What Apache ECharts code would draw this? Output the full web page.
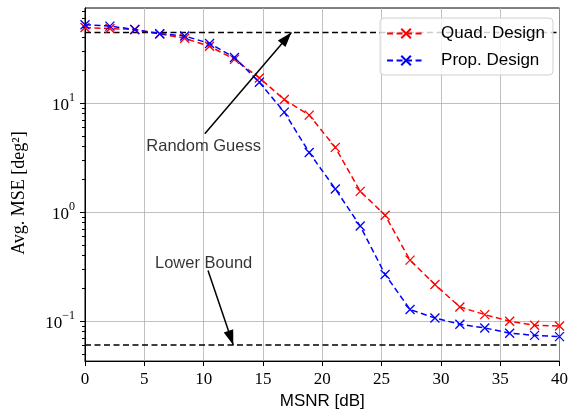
<!DOCTYPE html>
<html>
<head>
<meta charset="utf-8">
<script src="https://cdn.jsdelivr.net/npm/echarts@6/dist/echarts.min.js"></script>
<style>
html, body { margin: 0; padding: 0; background: #fff; }
#chart { width: 571px; height: 415px; }
</style>
</head>
<body>
<div id="chart"></div>
<script>
// MSNR grid (20 points, 0..40 dB)
var msnr = [0, 2.1, 4.2, 6.3, 8.4, 10.5, 12.6, 14.7, 16.8, 18.9, 21.1, 23.2, 25.3, 27.4, 29.5, 31.6, 33.7, 35.8, 37.9, 40]
var quadMse = [49, 48, 47, 42.8, 39, 33, 25, 16.9, 10.7, 7.7, 3.9, 1.54, 0.93, 0.36, 0.215, 0.134, 0.114, 0.099, 0.091, 0.0895]
var propMse = [52, 50.5, 47, 43, 41, 35, 26, 15.4, 8.2, 3.5, 1.62, 0.74, 0.266, 0.127, 0.106, 0.093, 0.086, 0.077, 0.0735, 0.0716]
var randomGuess = 44.2
var lowerBound = 0.06
var yMajor = [0.1, 1, 10]
var yMinor = [0.05, 0.06, 0.07, 0.08, 0.09, 0.2, 0.3, 0.4, 0.5, 0.6, 0.7, 0.8, 0.9,
  2, 3, 4, 5, 6, 7, 8, 9, 20, 30, 40, 50, 60, 70]
// annotations: text position, [arrow tail, arrow head]
var guessText = [10, 3.98]
var guessArrow = [[10.1, 5.2], [17.4, randomGuess]]
var boundText = [10, 0.337]
var boundArrow = [[10.37, 0.29], [12.5, lowerBound]]

var crossPath = 'path://M0,0L10,10M10,0L0,10'
var serif = 'Liberation Serif'
var sans = 'Liberation Sans'

function sup(v) {
  var e = Math.round(Math.log10(v))
  return '{b|10}{s|' + (e < 0 ? '\u2212' + (-e) : e) + '}'
}

var chart = echarts.init(document.getElementById('chart'))
chart.setOption({
  animation: false,
  grid: { left: 85, right: 9, top: 8, bottom: 50, show: true, borderColor: '#000', borderWidth: 1 },
  legend: {
    data: ['Quad. Design', 'Prop. Design'],
    orient: 'vertical',
    right: 18,
    top: 18,
    padding: [7, 8, 6, 6],
    itemGap: 10,
    itemWidth: 38,
    itemHeight: 12,
    backgroundColor: 'rgba(255,255,255,0.8)',
    borderColor: '#d0d0d0',
    borderWidth: 1,
    borderRadius: 4,
    textStyle: { fontFamily: sans, fontSize: 17, color: '#000', padding: [0, 0, 0, 11] }
  },
  xAxis: {
    type: 'value',
    min: 0,
    max: 40,
    interval: 5,
    name: 'MSNR [dB]',
    nameLocation: 'middle',
    nameGap: 31,
    nameTextStyle: { fontFamily: sans, fontSize: 17, color: '#000' },
    axisLine: { lineStyle: { color: '#000' } },
    axisTick: { length: 5, lineStyle: { color: '#000' } },
    axisLabel: { margin: 10, fontFamily: serif, fontSize: 17, color: '#000' },
    splitLine: { lineStyle: { color: '#b0b0b0', width: 0.8 } }
  },
  yAxis: {
    type: 'log',
    logBase: 10,
    min: 0.0427,
    max: 74,
    name: 'Avg. MSE [deg\u00b2]',
    nameLocation: 'middle',
    nameGap: 57,
    nameTextStyle: { fontFamily: serif, fontSize: 18, color: '#000', padding: [0, 17, 0, 0] },
    axisLine: { show: true, lineStyle: { color: '#000' } },
    axisTick: { length: 5, customValues: yMajor, lineStyle: { color: '#000' } },
    axisLabel: {
      margin: 10,
      customValues: yMajor,
      formatter: sup,
      rich: {
        b: { fontFamily: serif, fontSize: 17, color: '#000', lineHeight: 22, verticalAlign: 'bottom' },
        s: { fontFamily: serif, fontSize: 12, color: '#000', lineHeight: 22, verticalAlign: 'top' }
      }
    },
    splitLine: { show: true, lineStyle: { color: '#b0b0b0', width: 0.8 } }
  },
  series: [
    {
      name: 'Random Guess',
      type: 'line',
      data: [[0, randomGuess], [40, randomGuess]],
      symbol: 'none',
      lineStyle: { color: '#000', width: 1.5, type: [6, 3.5] },
      z: 2
    },
    {
      name: 'Lower Bound',
      type: 'line',
      data: [[0, lowerBound], [40, lowerBound]],
      symbol: 'none',
      lineStyle: { color: '#000', width: 1.5, type: [6, 3.5] },
      z: 2
    },
    {
      name: 'Quad. Design',
      type: 'line',
      data: msnr.map(function (x, i) { return [x, quadMse[i]] }),
      symbol: crossPath,
      symbolSize: 9,
      itemStyle: { color: '#ff0000', borderColor: '#ff0000', borderWidth: 1.3 },
      lineStyle: { color: '#ff0000', width: 1.5, type: [6, 3.5] },
      z: 3
    },
    {
      name: 'Prop. Design',
      type: 'line',
      data: msnr.map(function (x, i) { return [x, propMse[i]] }),
      symbol: crossPath,
      symbolSize: 9,
      itemStyle: { color: '#0000ff', borderColor: '#0000ff', borderWidth: 1.3 },
      lineStyle: { color: '#0000ff', width: 1.5, type: [6, 3.5] },
      z: 4
    },
    {
      name: 'annotations',
      type: 'scatter',
      silent: true,
      symbolSize: 1,
      itemStyle: { color: 'rgba(0,0,0,0)' },
      data: [
        { value: guessText, name: 'Random Guess' },
        { value: boundText, name: 'Lower Bound' }
      ],
      label: {
        show: true,
        position: 'inside',
        formatter: '{b}',
        fontFamily: sans,
        fontSize: 16.5,
        color: '#000'
      },
      markLine: {
        silent: true,
        symbol: ['none', 'triangle'],
        symbolSize: [10, 15],
        symbolOffset: [[0, 0], [0, 7.5]],
        label: { show: false },
        lineStyle: { color: '#000', width: 1.5, type: 'solid' },
        itemStyle: { color: '#000' },
        data: [
          [{ coord: guessArrow[0] }, { coord: guessArrow[1] }],
          [{ coord: boundArrow[0] }, { coord: boundArrow[1] }]
        ]
      },
      z: 6
    }
  ]
})

// minor ticks of the log axis, placed through the axis scale
var x0 = chart.convertToPixel({ xAxisIndex: 0 }, 0)
chart.setOption({
  graphic: yMinor.map(function (v) {
    var y = Math.round(chart.convertToPixel({ yAxisIndex: 0 }, v)) + 0.5
    return {
      type: 'line',
      silent: true,
      z: 10,
      shape: { x1: x0 - 3, y1: y, x2: x0, y2: y },
      style: { stroke: '#000', lineWidth: 1 }
    }
  })
})
</script>
</body>
</html>
